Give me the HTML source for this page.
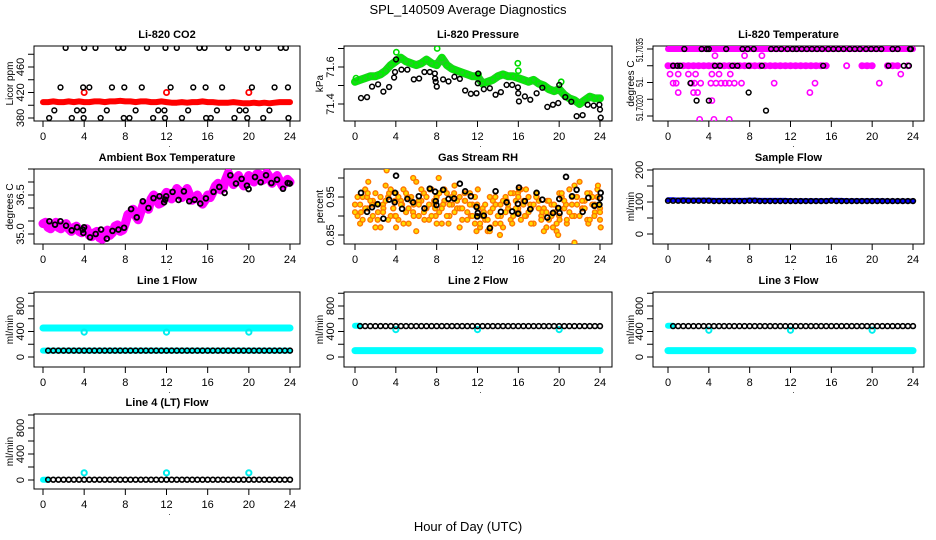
<!DOCTYPE html>
<html><head><meta charset="utf-8"><style>
html,body{margin:0;padding:0;background:#fff;}
svg{display:block;font-family:"Liberation Sans",Arial,sans-serif;}
</style></head><body>
<svg id="chart" width="936" height="540" viewBox="0 0 936 540" xmlns="http://www.w3.org/2000/svg">
<rect width="936" height="540" fill="#fff"/>
<text x="468" y="14" text-anchor="middle" font-size="13">SPL_140509  Average Diagnostics</text>
<text x="468" y="531" text-anchor="middle" font-size="13">Hour of Day (UTC)</text>
</svg>
<script>
// ---------------- DATA ----------------
const xTicks = [0,4,8,12,16,20,24];
// CO2
const co2Red = [405,405,406,405,405,406,405,406,405,405,406,406,405,406,406,407,406,406,405,406,406,405,405,406,405,404,404,405,404,405,405,406,405,405,404,404,404,405,404,403,403,404,403,404,403,404,405,405,405];
const co2RedOutT = [4,12,20];
const co2RedOutV = [420,420,420];
const co2BlkT = [0.6,1.1,1.7,2.2,2.8,3.3,3.9,3.9,3.95,4.0,4.5,5.1,5.6,6.2,6.7,7.3,7.8,7.85,7.9,8.4,9.0,9.6,10.1,10.7,11.2,11.8,11.85,11.9,12.4,13.0,13.5,14.1,14.6,15.2,15.7,15.8,15.85,16.3,16.9,17.4,18.0,18.6,19.1,19.7,19.8,19.85,20.3,20.9,21.4,22.0,22.5,23.1,23.6,23.8,23.85];
const co2BlkV = [380,392,428,490,380,392,428,392,380,490,428,490,380,392,428,490,490,380,428,380,392,428,490,380,392,392,380,490,428,490,380,392,428,490,490,428,380,380,392,428,490,380,392,392,490,380,428,490,380,392,428,490,490,428,380];
// Pressure
const presGreen = [71.52,71.53,71.54,71.55,71.55,71.56,71.58,71.61,71.63,71.65,71.63,71.62,71.61,71.62,71.64,71.62,71.61,71.65,71.61,71.59,71.58,71.57,71.56,71.55,71.55,71.51,71.52,71.53,71.55,71.56,71.55,71.55,71.54,71.53,71.52,71.53,71.51,71.50,71.48,71.47,71.48,71.45,71.43,71.42,71.40,71.42,71.44,71.43,71.43];
const presOutT = [0.1,4.05,8.05,12.1,15.95,16.0,20.2];
const presOutV = [71.54,71.68,71.70,71.56,71.62,71.58,71.52];
const presBlkT = [0.59,1.18,1.67,2.26,2.78,3.34,3.83,3.92,4.02,4.55,5.13,5.76,6.28,6.80,7.33,7.82,7.85,7.91,8.01,8.63,9.16,9.74,10.27,10.79,11.35,11.90,12.03,12.07,12.62,13.21,13.77,14.29,14.85,15.40,15.96,15.99,16.06,16.64,17.17,17.79,18.35,18.84,19.39,19.91,20.01,20.60,21.19,21.71,22.30,22.79,23.38,23.94,24.0,24.07];
const presBlkV = [71.432,71.437,71.494,71.506,71.467,71.492,71.543,71.573,71.641,71.586,71.586,71.533,71.538,71.573,71.573,71.565,71.538,71.520,71.494,71.533,71.522,71.547,71.536,71.473,71.455,71.458,71.512,71.565,71.480,71.485,71.450,71.464,71.503,71.503,71.490,71.458,71.414,71.441,71.423,71.458,71.488,71.384,71.396,71.405,71.503,71.437,71.412,71.334,71.340,71.396,71.391,71.396,71.370,71.326];
// Li-820 temperature
const tempPinkA = [51.7035,51.7035,51.7035,51.7035,51.7035,51.7035,51.7035,51.7035,51.7035,51.7035,51.7035,51.7035,51.7035,51.7035,51.7035,51.7035,51.7035,51.7035,51.7035,51.7035,51.7035,51.7035,51.7035,51.7035,51.7035,51.7035,51.7035,51.7035,51.7035,51.7035,51.7035,51.7035,51.7035,51.7035,51.7035,51.7035,51.7035,51.7035,51.7035,51.7035,51.7035,51.7035,51.7035,51.7035,51.7035,51.7035,51.7035,51.7035,51.7035];
const tempPinkB = [51.7030,51.7030,51.7030,51.7030,51.7030,51.7030,51.7030,51.7030,51.7030,51.7030,51.7030,51.7030,51.7030,51.7030,51.7030,51.7030,51.7030,51.7030,51.7030,51.7030,51.7030,51.7030,51.7030,51.7030,51.7030,51.7030,51.7030,51.7030,51.7030,51.7030,51.7030,51.7030,null,null,null,51.7030,null,null,51.7030,51.7030,51.7030,null,null,51.7030,51.7030,51.7030,null,51.7030,null];
const tempScatT = [0.2,1.0,2.0,2.7,4.3,5.0,6.1,22.8,0.5,0.8,2.3,2.6,3.2,4.2,4.7,5.2,5.6,6.0,6.5,7.2,10.4,14.4,20.7,1.0,2.5,2.9,13.9,4.3,3.1,4.5,6.0,4.6,7.5,9.2];
const tempScatV = [51.70275,51.70275,51.70275,51.70275,51.70275,51.70275,51.70275,51.70275,51.70248,51.70248,51.70248,51.70248,51.70248,51.70248,51.70248,51.70248,51.70248,51.70248,51.70248,51.70248,51.70248,51.70248,51.70248,51.7022,51.7022,51.7022,51.7022,51.70196,51.7014,51.7014,51.7014,51.7033,51.7033,51.7033];
const tempBlkT = [1.6,3.3,3.8,4.0,5.7,7.3,7.8,8.4,10.1,10.6,11.1,11.7,12.2,12.6,13.1,13.6,14.1,14.6,15.1,15.7,16.2,16.7,17.2,17.8,18.3,18.8,19.4,19.9,20.4,20.9,22.0,22.5,23.7,23.8,0.5,0.9,1.2,4.6,5.1,6.3,6.8,7.9,9.2,15.2,21.6,23.1,23.6,2.2,7.9,2.8,4.0,9.6];
const tempBlkV = [51.7035,51.7035,51.7035,51.7035,51.7035,51.7035,51.7035,51.7035,51.7035,51.7035,51.7035,51.7035,51.7035,51.7035,51.7035,51.7035,51.7035,51.7035,51.7035,51.7035,51.7035,51.7035,51.7035,51.7035,51.7035,51.7035,51.7035,51.7035,51.7035,51.7035,51.7035,51.7035,51.7035,51.7035,51.7030,51.7030,51.7030,51.7030,51.7030,51.7030,51.7030,51.7030,51.7030,51.7030,51.7030,51.7030,51.7030,51.70248,51.7022,51.70196,51.70196,51.70166];
// Ambient box temperature (quarter hour)
const ambMag = [35.40,35.45,35.25,35.20,35.35,35.45,35.25,35.20,35.35,35.40,35.20,35.10,35.25,35.30,35.10,35.05,35.15,35.20,34.95,34.90,35.05,35.10,34.85,34.80,35.00,35.15,34.95,35.05,35.30,35.35,35.10,35.15,35.40,35.75,35.80,35.95,35.70,35.55,35.85,36.15,36.10,35.95,36.35,36.50,36.40,36.15,36.20,36.45,36.60,36.55,36.35,36.50,36.75,36.65,36.40,36.55,36.75,36.50,36.30,36.40,36.50,36.30,36.15,36.30,36.50,36.40,36.60,36.85,36.95,36.70,36.75,37.10,37.35,37.10,36.90,37.10,37.25,37.00,36.85,37.05,37.25,37.15,37.00,37.30,37.30,37.05,37.10,37.35,37.20,36.95,37.10,37.25,37.05,36.85,36.95,37.10,37.00];
const ambBlkT = [0.62,1.17,1.69,2.24,2.79,3.31,3.86,3.92,3.99,4.57,5.12,5.64,6.20,6.75,7.33,7.88,8.56,9.11,9.70,10.25,10.74,11.32,11.77,11.87,11.97,12.59,13.17,13.69,14.21,14.73,15.28,15.83,16.57,17.13,17.65,18.20,18.75,19.30,19.82,19.98,20.60,21.15,21.67,22.19,22.74,23.32,23.78,23.97];
const ambBlkV = [35.49,35.36,35.49,35.32,35.14,35.26,35.17,35.04,35.26,34.87,35.00,35.17,34.82,35.12,35.17,35.24,35.96,35.64,36.26,36.00,36.38,36.45,36.22,36.32,36.45,36.62,36.31,36.64,36.26,36.32,36.17,36.37,36.62,36.81,36.58,37.26,36.94,37.12,36.86,36.73,37.19,36.99,37.26,36.96,37.09,36.74,36.96,36.94];
// Gas stream RH
const rhA = [0.93,0.90,0.88,0.95,0.97,0.92,0.89,0.94,0.96,0.91,0.87,0.93,0.98,0.95,0.90,0.92,0.96,0.89,0.94,0.97,0.91,0.88,0.95,0.93,0.99,0.90,0.94,0.96,0.92,0.89,0.97,0.93,0.95,0.91,0.88,0.94,0.96,0.90,0.93,0.98,0.92,0.95,0.89,0.94,0.91,0.96,0.93,0.88,0.90,0.87,0.92,0.89,0.86,0.91,0.94,0.88,0.90,0.93,0.87,0.95,0.92,0.89,0.96,0.94,0.91,0.97,0.93,0.90,0.95,0.92,0.88,0.96,0.94,0.90,0.92,0.87,0.89,0.93,0.91,0.86,0.90,0.95,0.92,0.88,0.97,0.93,0.90,0.95,0.99,0.92,0.94,0.89,0.96,0.93,0.91,0.95,0.92];
const rhB = [0.91,0.95,0.93,0.89,0.92,0.96,0.94,0.90,0.87,0.93,0.95,0.91,0.94,0.89,0.97,0.92,0.90,0.95,0.93,0.88,0.96,0.92,0.94,0.90,0.86,0.93,0.97,0.91,0.95,0.93,0.90,0.94,0.88,0.96,0.92,0.97,0.90,0.93,0.95,0.91,0.94,0.87,0.92,0.96,0.89,0.93,0.90,0.95,0.92,0.88,0.90,0.93,0.89,0.87,0.92,0.95,0.90,0.88,0.94,0.91,0.93,0.96,0.90,0.92,0.95,0.89,0.94,0.97,0.91,0.88,0.93,0.95,0.92,0.89,0.86,0.91,0.94,0.90,0.93,0.88,0.92,0.96,0.94,0.89,0.91,0.95,0.98,0.93,0.90,0.94,0.92,0.96,0.89,0.95,0.93,0.97,0.91];
const rhOutT = [3.1,5.7,13.2,14.2,19.9,21.5,1.3,8.2,23.8];
const rhOutV = [1.02,1.00,0.86,0.85,0.85,0.83,0.99,1.00,0.98];
const rhBlkT = [0.59,1.18,1.67,2.22,2.78,3.34,3.89,3.92,4.02,4.61,5.13,5.69,6.25,6.80,7.33,7.85,7.91,7.98,8.63,9.16,9.71,10.27,10.79,11.35,11.90,11.97,12.03,12.62,13.21,13.77,14.29,14.85,15.40,15.96,15.99,16.06,16.64,17.17,17.79,18.35,18.84,19.39,19.91,20.01,20.04,20.67,21.26,21.71,22.30,22.86,23.45,23.94,24.0,24.07];
const rhBlkV = [0.961,0.911,0.923,0.931,0.893,0.943,0.936,0.961,1.006,0.919,0.945,0.936,0.952,0.920,0.972,0.964,0.939,0.929,0.969,0.945,0.946,0.985,0.965,0.952,0.924,0.899,0.908,0.901,0.868,0.965,0.911,0.936,0.912,0.932,0.906,0.975,0.939,0.918,0.961,0.943,0.896,0.908,0.921,0.945,0.908,1.003,0.952,0.969,0.911,0.948,0.927,0.930,0.947,0.961];
// Sample flow
const sampBlue = [107,107,106,107,106,106,106,106,106,105,105,105,105,105,105,105,106,106,105,105,105,105,105,105,104,104,104,104,104,104,104,104,105,105,105,104,104,104,104,104,104,104,104,103,103,103,103,103,103];
const sampBlk = [104,104,104,104,104,104,104,104,104,103,103,103,103,103,103,103,104,104,103,103,103,103,103,103,103,103,103,103,103,103,103,103,104,103,103,103,103,103,103,103,103,103,103,103,103,103,103,103,103];
// Line flows
const l1CyanHi = [455,455,455,455,455,455,455,455,455,455,455,455,455,455,455,455,455,455,455,455,455,455,455,455,455,455,455,455,455,455,455,455,455,455,455,455,455,455,455,455,455,455,455,455,455,455,455,455,455];
const l1CyanLo = [100,100,100,100,100,100,100,100,100,100,100,100,100,100,100,100,100,100,100,100,100,100,100,100,100,100,100,100,100,100,100,100,100,100,100,100,100,100,100,100,100,100,100,100,100,100,100,100,100];
const l1Blk = [null,100,100,100,100,100,100,100,100,100,100,100,100,100,100,100,100,100,100,100,100,100,100,100,100,100,100,100,100,100,100,100,100,100,100,100,100,100,100,100,100,100,100,100,100,100,100,100,100];
const l1DipT = [4,12,20];
const l1DipV = [390,390,390];
const l2CyanHi = [490,490,null,null,null,null,null,null,null,null,null,null,null,null,null,null,null,null,null,null,null,null,null,null,null,null,null,null,null,null,null,null,null,null,null,null,null,null,null,null,null,null,null,null,null,null,null,null,null];
const l2CyanLo = [100,100,100,100,100,100,100,100,100,100,100,100,100,100,100,100,100,100,100,100,100,100,100,100,100,100,100,100,100,100,100,100,100,100,100,100,100,100,100,100,100,100,100,100,100,100,100,100,100];
const l2Blk = [null,485,485,485,485,485,485,485,485,485,485,485,485,485,485,485,485,485,485,485,485,485,485,485,485,485,485,485,485,485,485,485,485,485,485,485,485,485,485,485,485,485,485,485,485,485,485,485,485];
const l2DipT = [4,12,20];
const l2DipV = [430,430,430];
const l3CyanHi = [490,490,null,null,null,null,null,null,null,null,null,null,null,null,null,null,null,null,null,null,null,null,null,null,null,null,null,null,null,null,null,null,null,null,null,null,null,null,null,null,null,null,null,null,null,null,null,null,null];
const l3CyanLo = [100,100,100,100,100,100,100,100,100,100,100,100,100,100,100,100,100,100,100,100,100,100,100,100,100,100,100,100,100,100,100,100,100,100,100,100,100,100,100,100,100,100,100,100,100,100,100,100,100];
const l3Blk = [null,485,485,485,485,485,485,485,485,485,485,485,485,485,485,485,485,485,485,485,485,485,485,485,485,485,485,485,485,485,485,485,485,485,485,485,485,485,485,485,485,485,485,485,485,485,485,485,485];
const l3DipT = [4,12,20];
const l3DipV = [420,420,420];
const l4Cyan = [5,5,null,null,null,null,null,null,null,null,null,null,null,null,null,null,null,null,null,null,null,null,null,null,null,null,null,null,null,null,null,null,null,null,null,null,null,null,null,null,null,null,null,null,null,null,null,null,null];
const l4Blk = [null,5,5,5,5,5,5,5,5,5,5,5,5,5,5,5,5,5,5,5,5,5,5,5,5,5,5,5,5,5,5,5,5,5,5,5,5,5,5,5,5,5,5,5,5,5,5,5,5];
const l4BumpT = [4,12,20];
const l4BumpV = [110,110,110];
const co2Ticks = [380,400,420,440,460,480], co2Labels = ["380","","420","","460",""];
const presTicks = [71.4,71.5,71.6,71.7], presLabels = ["71.4","","71.6",""];
const tempTicks = [51.7035,51.703,51.7025,51.702,51.7015], tempLabels = ["","","","",""];
const ambTicks = [35.0,35.5,36.0,36.5,37.0,37.5], ambLabels = ["35.0","","","36.5","",""];
const rhTicks = [0.85,0.90,0.95,1.00], rhLabels = ["0.85","","0.95",""];
const sampTicks = [0,50,100,150,200], sampLabels = ["0","","100","","200"];
const flowTicks = [0,200,400,600,800,1000], flowLabels = ["0","","400","","800",""];

// ---------------- DRAWING ----------------
const NS = "http://www.w3.org/2000/svg";
const svg = document.getElementById("chart");
const COLS = [{l:34,r:300,x0:43,x24:290,yt:9},{l:344,r:612,x0:355,x24:600,yt:319},{l:653,r:924,x0:668,x24:913,yt:630}];
const ROWS = [{t:46,b:121},{t:169,b:244},{t:292,b:367},{t:414,b:489}];
function mk(tag, parent){ const e=document.createElementNS(NS,tag); parent.appendChild(e); return e; }

function panel(name, title, ytitle, col, row, v1, p1, v2, p2, ticks, labels){
  const C=COLS[col], R=ROWS[row];
  const g=mk("g",svg);
  
  
  const xs=h=>C.x0+(C.x24-C.x0)*h/24;
  const ys=v=>p1+(v-v1)*(p2-p1)/(v2-v1);
  const clipId="clip-"+name;
  const cp=mk("clipPath",g); cp.setAttribute("id",clipId);
  const cr=mk("rect",cp); cr.setAttribute("x",C.l); cr.setAttribute("y",R.t); cr.setAttribute("width",C.r-C.l); cr.setAttribute("height",R.b-R.t);
  const t=mk("text",g);
  
  
  t.setAttribute("x",(C.l+C.r)/2); t.setAttribute("y",R.t-8); t.setAttribute("text-anchor","middle"); t.setAttribute("font-size","11"); t.setAttribute("font-weight","bold"); t.textContent=title;
  const yt=mk("text",g);
  
  
  const cy=(R.t+R.b)/2;
  yt.setAttribute("transform","translate("+(C.yt+4)+","+cy+") rotate(-90)"); yt.setAttribute("text-anchor","middle"); yt.setAttribute("font-size","10"); yt.textContent=ytitle;
  const xa=mk("g",g);
  
  
  const al=mk("line",xa); al.setAttribute("x1",xs(0)); al.setAttribute("x2",xs(24)); al.setAttribute("y1",R.b); al.setAttribute("y2",R.b); al.setAttribute("stroke","#000");
  xTicks.forEach(h=>{
    const l=mk("line",xa); l.setAttribute("x1",xs(h)); l.setAttribute("x2",xs(h)); l.setAttribute("y1",R.b); l.setAttribute("y2",R.b+6); l.setAttribute("stroke","#000");
    const tx=mk("text",xa);
    
    
    tx.setAttribute("x",xs(h)); tx.setAttribute("y",R.b+19); tx.setAttribute("text-anchor","middle"); tx.setAttribute("font-size","11"); tx.textContent=String(h);
  });
  const dt=mk("text",xa); dt.setAttribute("x",xs(12)+2); dt.setAttribute("y",R.b+26); dt.setAttribute("font-size","8"); dt.textContent=".";
  const ya=mk("g",g);
  
  
  const yl=mk("line",ya); yl.setAttribute("x1",C.l); yl.setAttribute("x2",C.l); yl.setAttribute("y1",ys(ticks[0])); yl.setAttribute("y2",ys(ticks[ticks.length-1])); yl.setAttribute("stroke","#000");
  ticks.forEach((v,i)=>{
    const l=mk("line",ya); l.setAttribute("x1",C.l-6); l.setAttribute("x2",C.l); l.setAttribute("y1",ys(v)); l.setAttribute("y2",ys(v)); l.setAttribute("stroke","#000");
    if(labels[i]){
      const tx=mk("text",ya);
      
      
      tx.setAttribute("transform","translate("+(C.l-10)+","+ys(v)+") rotate(-90)"); tx.setAttribute("text-anchor","middle"); tx.setAttribute("font-size","11"); tx.textContent=labels[i];
    }
  });
  const box=mk("rect",g);
  
  
  box.setAttribute("x",C.l); box.setAttribute("y",R.t); box.setAttribute("width",C.r-C.l); box.setAttribute("height",R.b-R.t); box.setAttribute("fill","none"); box.setAttribute("stroke","#000");
  const pg=mk("g",g); pg.setAttribute("clip-path","url(#"+clipId+")");
  return {xs,ys,g:pg};
}
function pts(P, T, V, color, opt){
  const s=mk("g",P.g);
  
  
  V.forEach((v,i)=>{
    if(v===null||v===undefined) return;
    const t = T ? T[i] : i*24/(V.length-1);
    const c=mk("circle",s);
    
    
    c.setAttribute("cx",P.xs(t)); c.setAttribute("cy",P.ys(v)); c.setAttribute("r",opt.r||2.4);
    c.setAttribute("fill",opt.fill||"none"); c.setAttribute("stroke",color); c.setAttribute("stroke-width",opt.sw||1.5);
  });
}
function band(P, V, color, w, name){
  const s=mk("g",P.g);
  
  
  let seg=[];
  const flush=()=>{ if(seg.length>1){ const pl=mk("polyline",s); pl.setAttribute("points",seg.join(" ")); pl.setAttribute("fill","none"); pl.setAttribute("stroke",color); pl.setAttribute("stroke-width",w); pl.setAttribute("stroke-linejoin","round"); pl.setAttribute("stroke-linecap","round"); } seg=[]; };
  V.forEach((v,i)=>{
    if(v===null||v===undefined){ flush(); return; }
    const t=i*24/(V.length-1);
    seg.push(P.xs(t).toFixed(1)+","+P.ys(v).toFixed(1));
  });
  flush();
}
let P=panel("co2","Li-820 CO2","Licor ppm",0,0,380,118,460,67,co2Ticks,co2Labels);
band(P,co2Red,"#ff0000",6,"co2-red-band");
pts(P,co2RedOutT,co2RedOutV,"#ff0000",{name:"co2-red-outlier",r:2.6,sw:1.8});
pts(P,co2BlkT,co2BlkV,"#000",{name:"co2-black-series"});

P=panel("pressure","Li-820 Pressure","kPa",1,0,71.4,104,71.6,67,presTicks,presLabels);
band(P,presGreen,"#22cc22",8,"pressure-green-band");
pts(P,null,presGreen,"#00ee00",{name:"pressure-green-series",r:2.6,sw:1.6});
pts(P,presOutT,presOutV,"#00dd00",{name:"pressure-green-outlier",r:2.6,sw:1.6});
pts(P,presBlkT,presBlkV,"#000",{name:"pressure-black-series"});

P=panel("temperature","Li-820 Temperature","degrees C",2,0,51.7035,49,51.7015,116,tempTicks,tempLabels);
band(P,tempPinkA,"#ff00ff",6,"temp-pink-band-a");
band(P,tempPinkB,"#ff00ff",6,"temp-pink-band-b");
pts(P,null,tempPinkB,"#ff00ff",{name:"temp-pink-row-b",r:2.6,sw:1.8});
pts(P,tempScatT,tempScatV,"#ff00ff",{name:"temp-pink-scatter",r:2.6,sw:1.6});
pts(P,tempBlkT,tempBlkV,"#000",{name:"temp-black-series"});
(function(){
  const C=COLS[2];
  const specs=[["51.7035",50,24],["51.",82,10],["51.7020",108,26]];
  specs.forEach(s=>{
    const a=mk("text",svg);
    
    
    a.setAttribute("transform","translate("+(C.l-10)+","+s[1]+") rotate(-90)"); a.setAttribute("text-anchor","middle"); a.setAttribute("font-size","10");
    a.setAttribute("textLength",s[2]); a.setAttribute("lengthAdjust","spacingAndGlyphs");
    a.textContent=s[0];
  });
})();

P=panel("ambient","Ambient Box Temperature","degrees C",0,1,35.0,234,36.5,195,ambTicks,ambLabels);
band(P,ambMag,"#ff00ff",9,"ambient-magenta-band");
pts(P,ambBlkT,ambBlkV,"#000",{name:"ambient-black-series",sw:1.8});

P=panel("rh","Gas Stream RH","percent",1,1,0.85,235,0.95,197,rhTicks,rhLabels);
pts(P,null,rhA,"#ff7700",{name:"rh-orange-series-a",r:2.4,sw:1.4,fill:"#ffcc00"});
pts(P,rhBlkT,rhB.slice(0,rhBlkT.length),"#ff7700",{name:"rh-orange-series-b",r:2.4,sw:1.4,fill:"#ffcc00"});
pts(P,null,rhB,"#ff7700",{name:"rh-orange-series-c",r:2.4,sw:1.4,fill:"#ffdd00"});
pts(P,rhOutT,rhOutV,"#ff7700",{name:"rh-orange-outlier",r:2.4,sw:1.4,fill:"#ffdd00"});
pts(P,rhBlkT,rhBlkV,"#000",{name:"rh-black-series",sw:1.8});

P=panel("sample-flow","Sample Flow","ml/min",2,1,0,234,200,170,sampTicks,sampLabels);
band(P,sampBlue,"#0000ff",5,"sample-blue-band");
pts(P,null,sampBlk,"#000",{name:"sample-black-series",sw:1.6});

P=panel("line1","Line 1 Flow","ml/min",0,2,0,357,800,306,flowTicks,flowLabels);
band(P,l1CyanHi,"#00ffff",7,"line1-cyan-high");
band(P,l1CyanLo,"#00ffff",6,"line1-cyan-low");
pts(P,l1DipT,l1DipV,"#00eeee",{name:"line1-cyan-dip",r:2.6,sw:2});
pts(P,null,l1Blk,"#000",{name:"line1-black-series",sw:1.6});

P=panel("line2","Line 2 Flow","ml/min",1,2,0,357,800,306,flowTicks,flowLabels);
band(P,l2CyanLo,"#00ffff",7,"line2-cyan-low");
band(P,l2CyanHi,"#00ffff",6,"line2-cyan-high");
pts(P,l2DipT,l2DipV,"#00eeee",{name:"line2-cyan-dip",r:2.6,sw:2});
pts(P,null,l2Blk,"#000",{name:"line2-black-series",sw:1.6});

P=panel("line3","Line 3 Flow","ml/min",2,2,0,357,800,306,flowTicks,flowLabels);
band(P,l3CyanLo,"#00ffff",7,"line3-cyan-low");
band(P,l3CyanHi,"#00ffff",6,"line3-cyan-high");
pts(P,l3DipT,l3DipV,"#00eeee",{name:"line3-cyan-dip",r:2.6,sw:2});
pts(P,null,l3Blk,"#000",{name:"line3-black-series",sw:1.6});

P=panel("line4","Line 4 (LT) Flow","ml/min",0,3,0,480,800,428,flowTicks,flowLabels);
band(P,l4Cyan,"#00ffff",6,"line4-cyan-series");
pts(P,l4BumpT,l4BumpV,"#00eeee",{name:"line4-cyan-bump",r:2.6,sw:2});
pts(P,null,l4Blk,"#000",{name:"line4-black-series",sw:1.6});
</script>
</body></html>
